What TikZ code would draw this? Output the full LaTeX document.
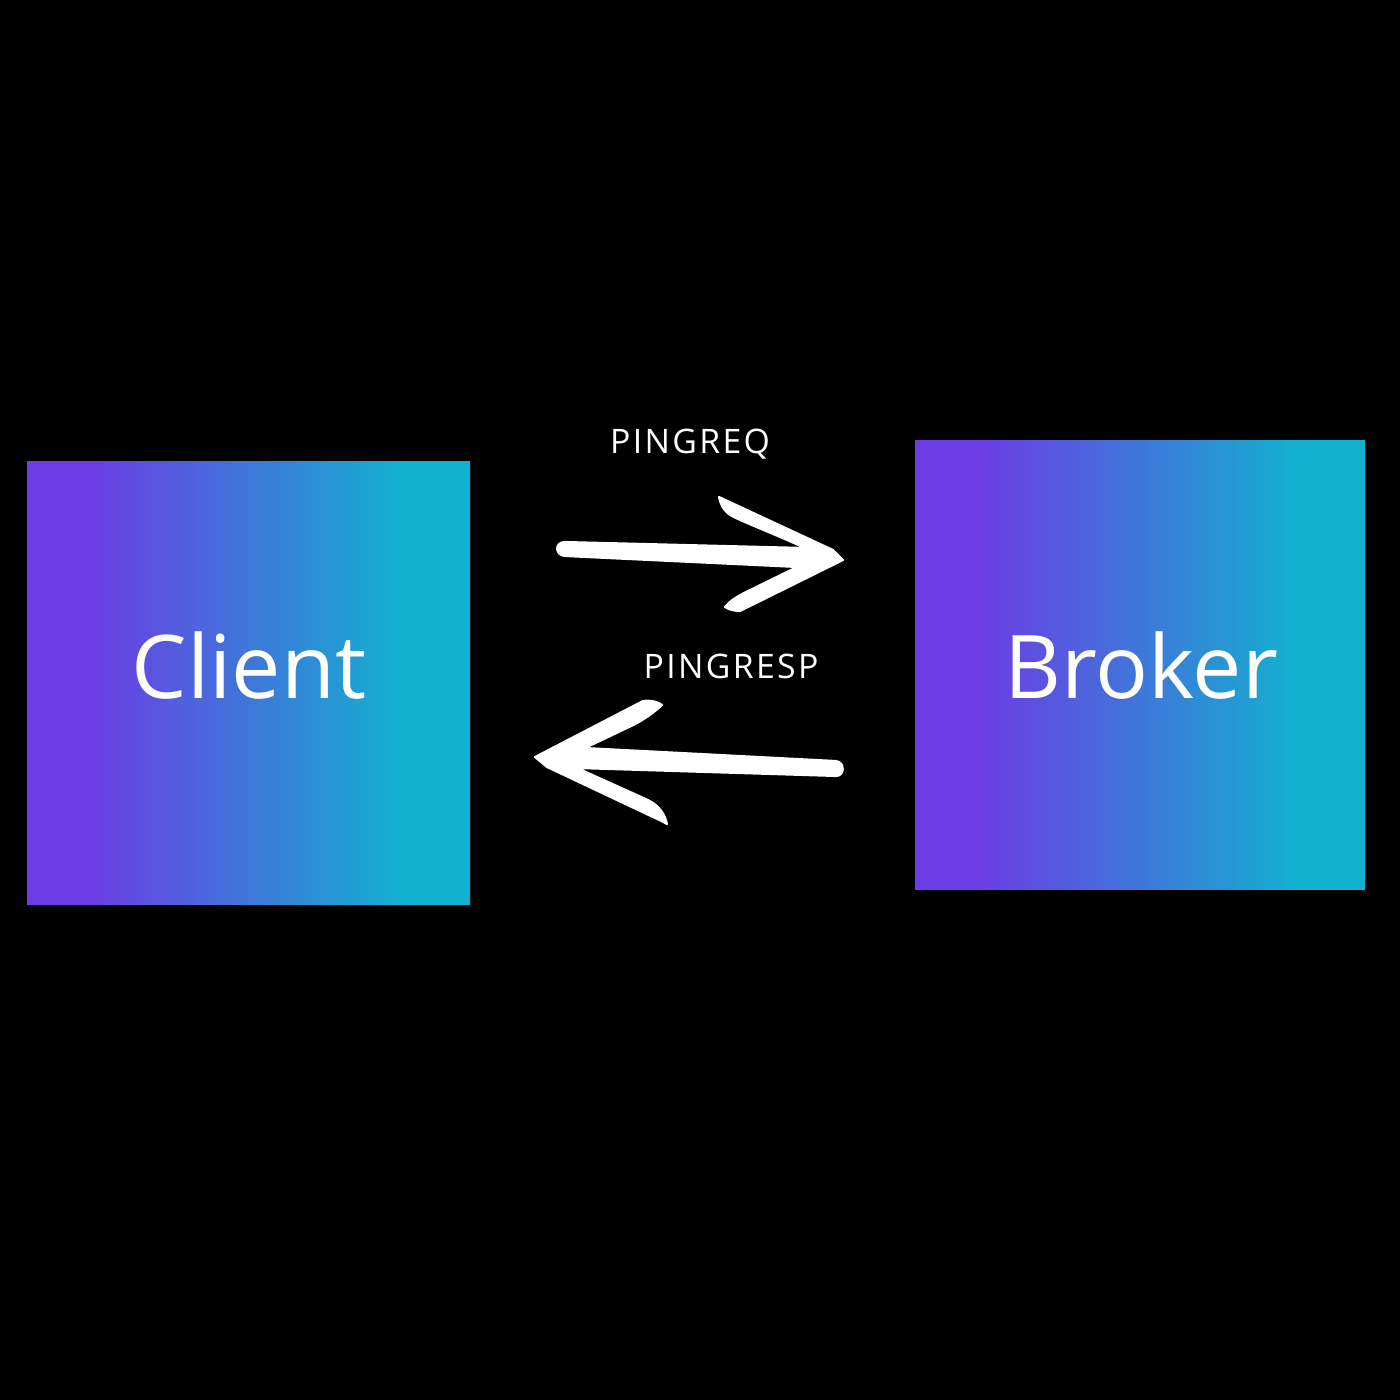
\documentclass[tikz,border=0pt]{standalone}
\usepackage{fontspec}
\setmainfont{Open Sans}
\newfontfamily\spacedfont[LetterSpace=7]{Open Sans}
\pgfdeclarehorizontalshading{boxgrad}{100bp}{rgb(0bp)=(0.424,0.235,0.894); rgb(32bp)=(0.424,0.235,0.894); rgb(68bp)=(0.067,0.698,0.812); rgb(100bp)=(0.067,0.698,0.812)}
\tikzset{
  gradbox/.style={shading=boxgrad, draw=none},
  bigtext/.style={text=white, font=\fontsize{25}{30}\selectfont, inner sep=0pt, anchor=base},
  smalltext/.style={text=white, font=\spacedfont\fontsize{9.6}{11}\selectfont, inner sep=0pt, anchor=base},
  handarrow/.style={fill=white, draw=white, line width=0.6pt, line join=round}
}
\begin{document}
\begin{tikzpicture}[x=0.01cm, y=-0.01cm]
\fill[black] (0,0) rectangle (1400,1400);
\useasboundingbox (0,0) rectangle (1400,1400);
% boxes
\path[gradbox] (27,461) rectangle (470,904);
\path[gradbox] (915,440) rectangle (1365,889);
\node[bigtext] (client) at (249,698) {Client};
\node[bigtext] (broker) at (1141,698) {Broker};
\node[smalltext] (req) at (690,453) {PINGREQ};
\node[smalltext] (resp) at (731,678) {PINGRESP};
% top arrow (to the right)
\path[handarrow] (565,542) -- (805,548) .. controls (770,532) and (745,523) .. (730,515)
  .. controls (723,510) and (720,503) .. (719,497) -- (833,550)
  -- (843,560) -- (740,611) .. controls (733,611) and (728,609) .. (725,607)
  .. controls (730,601) and (736,597) .. (746,592) -- (797,567) -- (565,556)
  .. controls (555,555.5) and (554,542) .. (565,542) -- cycle;
% bottom arrow (to the left)
\path[handarrow] (535,757) -- (643,701) .. controls (652,700) and (658,702) .. (662,705)
  .. controls (650,716) and (640,722) .. (627,728) -- (585,748)
  -- (836,761) .. controls (845,762) and (845,776) .. (836,776) -- (577,768)
  -- (648,800) .. controls (660,806) and (665,815) .. (667,824)
  .. controls (663,822) and (660,820) .. (655,818) -- (547,767) -- cycle;
\end{tikzpicture}
\end{document}
